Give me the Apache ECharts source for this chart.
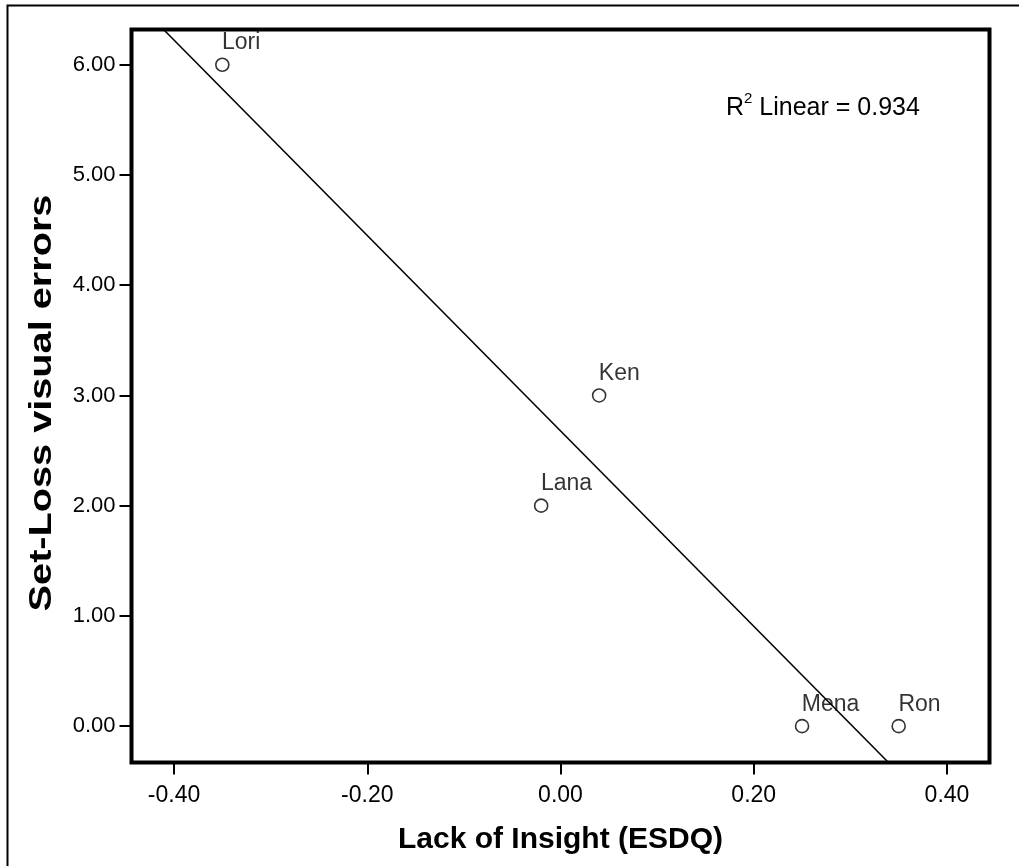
<!DOCTYPE html>
<html>
<head>
<meta charset="utf-8">
<script src="https://cdn.jsdelivr.net/npm/echarts@6/dist/echarts.min.js"></script>
<style>
html,body{margin:0;padding:0;background:#fff;}
#chart{width:1019px;height:866px;}
</style>
</head>
<body>
<div id="chart"></div>
<script>
var names = ['Lori', 'Ken', 'Lana', 'Mena', 'Ron'];
var xValues = [-0.35, 0.04, -0.02, 0.25, 0.35];
var yValues = [6, 3, 2, 0, 0];
var xTicks = [-0.4, -0.2, 0, 0.2, 0.4];
var yTicks = [0, 1, 2, 3, 4, 5, 6];
var xTitle = 'Lack of Insight (ESDQ)';
var yTitle = 'Set-Loss visual errors';
var r2Text = '0.934';

var X_MIN = -0.444, X_MAX = 0.444, Y_MIN = -0.33, Y_MAX = 6.32;

// least-squares fit from the data
var n = xValues.length;
var mx = xValues.reduce(function(a,b){return a+b;},0)/n;
var my = yValues.reduce(function(a,b){return a+b;},0)/n;
var sxy = 0, sxx = 0;
for (var i = 0; i < n; i++) { sxy += (xValues[i]-mx)*(yValues[i]-my); sxx += (xValues[i]-mx)*(xValues[i]-mx); }
var slope = sxy/sxx, intercept = my - slope*mx;

var points = names.map(function(nm, i){ return {name: nm, value: [xValues[i], yValues[i]]}; });
var fitLine = [[X_MIN, intercept + slope*X_MIN], [X_MAX, intercept + slope*X_MAX]];

var FONT = '"Liberation Sans", Arial, Helvetica, sans-serif';
var chart = echarts.init(document.getElementById('chart'), null, {renderer: 'canvas'});
chart.setOption({
  animation: false,
  backgroundColor: '#ffffff',
  textStyle: {fontFamily: FONT, color: '#000'},
  grid: {left: 131.5, right: 29.5, top: 29.5, bottom: 103.5, show: true, borderColor: '#000', borderWidth: 4, backgroundColor: 'transparent'},
  xAxis: {
    type: 'value', min: X_MIN, max: X_MAX,
    name: xTitle, nameLocation: 'middle', nameGap: 62,
    nameTextStyle: {fontFamily: FONT, fontSize: 30, fontWeight: 'bold', color: '#000'},
    axisLine: {show: false, onZero: false},
    axisTick: {show: true, inside: false, length: 12, lineStyle: {color: '#000', width: 2}, customValues: xTicks},
    axisLabel: {customValues: xTicks, margin: 22, fontSize: 23, color: '#000', fontFamily: FONT,
      formatter: function(v){ return (Math.abs(v) < 1e-9 ? 0 : v).toFixed(2); }},
    splitLine: {show: false}
  },
  yAxis: {
    type: 'value', min: Y_MIN, max: Y_MAX,
    axisLine: {show: false, onZero: false},
    axisTick: {show: true, inside: false, length: 12, lineStyle: {color: '#000', width: 2}, customValues: yTicks},
    axisLabel: {customValues: yTicks, margin: 16, fontSize: 22, color: '#000', fontFamily: FONT,
      formatter: function(v){ return v.toFixed(2); }},
    splitLine: {show: false}
  },
  graphic: [
    {type: 'rect', silent: true, z: 100, shape: {x: 7.5, y: 5.5, width: 1030, height: 900},
     style: {fill: 'none', stroke: '#000', lineWidth: 2}},
    {type: 'text', x: 42, y: 403, rotation: Math.PI/2, scaleX: 1.28, scaleY: 1, z: 100,
     style: {text: yTitle, fill: '#000', fontFamily: FONT, fontSize: 31, fontWeight: 'bold',
       align: 'center', verticalAlign: 'middle'}},
    {type: 'text', left: 726, top: 91, z: 100,
     style: {text: '{b|R}{s|2}{b| Linear = ' + r2Text + '}', fill: '#000',
       rich: {b: {fontFamily: FONT, fontSize: 25, fill: '#000', verticalAlign: 'bottom', lineHeight: 30},
              s: {fontFamily: FONT, fontSize: 15, fill: '#000', verticalAlign: 'top', lineHeight: 30}}}}
  ],
  series: [
    {
      type: 'line', data: fitLine, showSymbol: false, symbol: 'none', clip: true,
      lineStyle: {color: '#000', width: 1.5}, z: 2, silent: true
    },
    {
      type: 'scatter', data: points, symbol: 'circle', symbolSize: 13, z: 3,
      itemStyle: {color: '#fff', borderColor: '#000', borderWidth: 1.6},
      label: {show: true, formatter: '{b}', position: [7, -3], align: 'left', verticalAlign: 'bottom',
        fontFamily: FONT, fontSize: 23, color: '#000', textBorderWidth: 0}
    }
  ]
});
</script>
</body>
</html>
